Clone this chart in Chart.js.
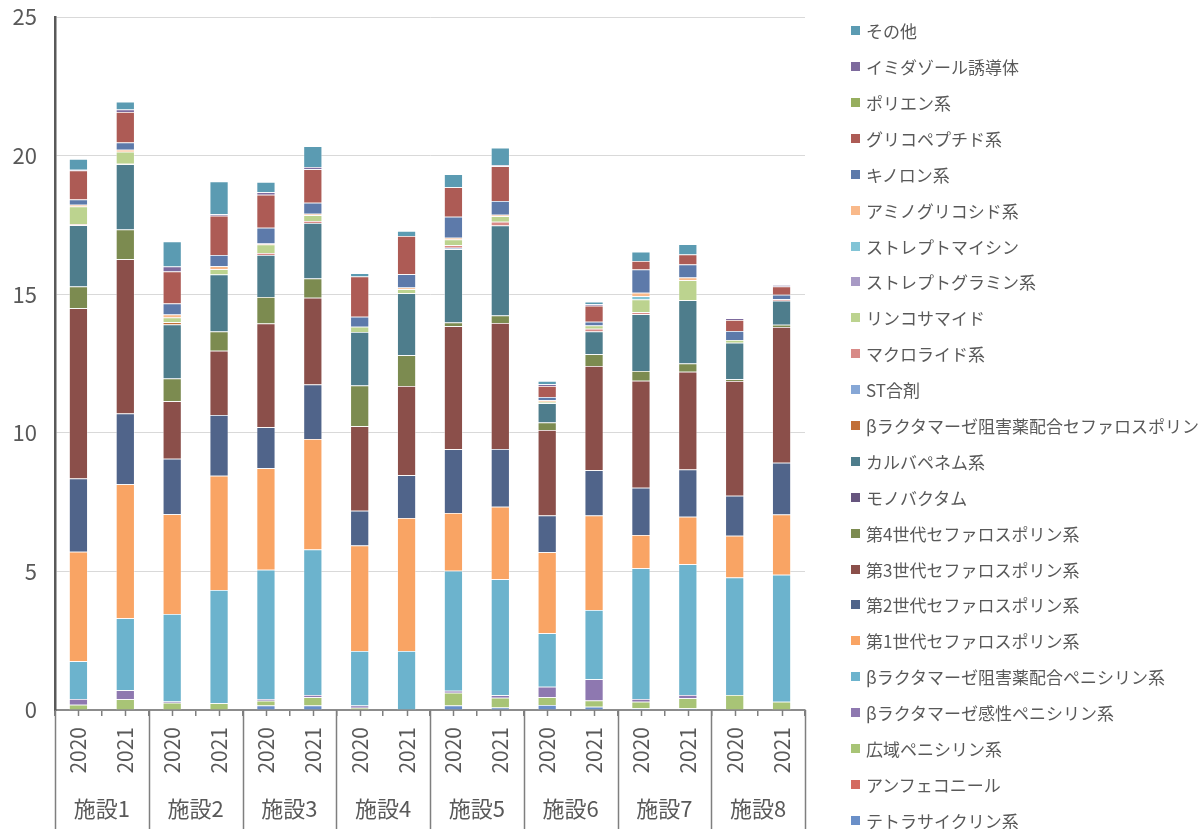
<!DOCTYPE html>
<html lang="ja">
<head>
<meta charset="utf-8">
<title>施設別 抗菌薬使用量</title>
<script src="https://cdn.jsdelivr.net/npm/chart.js@4.4.1/dist/chart.umd.min.js"></script>
<style>
  html, body { margin: 0; padding: 0; background: #fff; }
  body { width: 1200px; height: 829px; position: relative; overflow: hidden; font-family: "Noto Sans CJK JP", "Noto Sans", sans-serif; }
  #chart { position: absolute; left: 0; top: 0; }
  #legend { position: absolute; left: 851px; top: 12.8px; margin: 0; padding: 0; list-style: none; }
  #legend li { height: 35.9px; display: flex; align-items: center; font-size: 17px; color: #595959; white-space: nowrap; }
  #legend .box { width: 9px; height: 9px; margin-right: 6px; flex: none; }
</style>
</head>
<body>
<canvas id="chart" width="1200" height="829"></canvas>
<ul id="legend"></ul>
<script>
// x axis: facility groups and years
const facilities = ['施設1', '施設2', '施設3', '施設4', '施設5', '施設6', '施設7', '施設8'];
const years = ['2020', '2021'];
const yTicks = [0, 5, 10, 15, 20, 25];

// one value per bar: 施設1 2020, 施設1 2021, 施設2 2020 ...
const tetracycline   = [0, 0, 0, 0, 0.16, 0.16, 0, 0, 0.16, 0.09, 0.18, 0.12, 0.06, 0.06, 0, 0];
const amphenicol     = [0, 0, 0, 0, 0, 0, 0, 0, 0, 0, 0, 0, 0, 0, 0, 0];
const broadPen       = [0.19, 0.39, 0.26, 0.24, 0.17, 0.30, 0.08, 0, 0.46, 0.35, 0.28, 0.22, 0.24, 0.36, 0.54, 0.30];
const sensPen        = [0.21, 0.32, 0.05, 0, 0.07, 0.08, 0.08, 0, 0.07, 0.09, 0.38, 0.77, 0.10, 0.12, 0, 0];
const inhibPen       = [1.36, 2.60, 3.15, 4.09, 4.66, 5.25, 1.97, 2.13, 4.33, 4.19, 1.93, 2.50, 4.71, 4.72, 4.24, 4.58];
const ceph1          = [3.95, 4.83, 3.60, 4.12, 3.66, 3.99, 3.80, 4.80, 2.09, 2.61, 2.92, 3.41, 1.20, 1.71, 1.51, 2.17];
const ceph2          = [2.64, 2.56, 2.00, 2.19, 1.48, 1.96, 1.26, 1.54, 2.30, 2.09, 1.33, 1.63, 1.71, 1.71, 1.44, 1.87];
const ceph3          = [6.14, 5.56, 2.08, 2.32, 3.74, 3.13, 3.05, 3.22, 4.43, 4.54, 3.08, 3.76, 3.86, 3.52, 4.14, 4.90];
const ceph4          = [0.79, 1.07, 0.82, 0.69, 0.96, 0.70, 1.47, 1.11, 0.14, 0.27, 0.27, 0.42, 0.35, 0.30, 0.06, 0.08];
const monobactam     = [0, 0, 0, 0, 0, 0, 0, 0, 0, 0, 0, 0, 0, 0, 0, 0];
const carbapenem     = [2.21, 2.36, 1.95, 2.06, 1.51, 2.00, 1.93, 2.23, 2.64, 3.25, 0.70, 0.82, 2.05, 2.28, 1.32, 0.86];
const inhibCeph      = [0, 0, 0.08, 0, 0, 0, 0, 0, 0, 0, 0, 0, 0, 0, 0, 0];
const stMix          = [0, 0, 0, 0, 0, 0, 0, 0, 0.06, 0, 0, 0, 0, 0, 0, 0];
const macrolide      = [0.03, 0.02, 0, 0, 0.08, 0.07, 0, 0, 0.09, 0.13, 0, 0.10, 0.07, 0, 0, 0.06];
const lincosamide    = [0.64, 0.43, 0.17, 0.19, 0.30, 0.21, 0.19, 0.15, 0.20, 0.20, 0.05, 0.12, 0.46, 0.72, 0.10, 0];
const streptogramin  = [0, 0, 0, 0, 0, 0, 0, 0, 0, 0, 0, 0, 0, 0, 0, 0];
const streptomycin   = [0, 0, 0, 0, 0, 0, 0, 0, 0, 0, 0, 0, 0.12, 0, 0, 0];
const aminoglycoside = [0.07, 0.07, 0.11, 0.11, 0.04, 0.05, 0, 0.06, 0.07, 0.06, 0.05, 0, 0.12, 0.10, 0, 0];
const quinolone      = [0.19, 0.26, 0.39, 0.40, 0.57, 0.40, 0.36, 0.48, 0.75, 0.49, 0.12, 0.14, 0.84, 0.47, 0.32, 0.16];
const glycopeptide   = [1.04, 1.10, 1.16, 1.42, 1.19, 1.21, 1.45, 1.38, 1.07, 1.26, 0.40, 0.57, 0.31, 0.36, 0.40, 0.30];
const polyene        = [0, 0, 0, 0, 0, 0, 0, 0, 0, 0, 0, 0, 0, 0, 0, 0];
const imidazole      = [0.03, 0.09, 0.18, 0.05, 0.09, 0.08, 0, 0, 0, 0.03, 0.06, 0.06, 0, 0, 0.06, 0.05];
const others         = [0.39, 0.28, 0.90, 1.19, 0.37, 0.75, 0.12, 0.18, 0.47, 0.63, 0.12, 0.09, 0.33, 0.37, 0, 0];

// stacked from the bottom up
const series = [
  ['テトラサイクリン系', tetracycline, '#6A8FC8'],
  ['アンフェコニール', amphenicol, '#D46A60'],
  ['広域ペニシリン系', broadPen, '#A8C476'],
  ['βラクタマーゼ感性ペニシリン系', sensPen, '#8E78B0'],
  ['βラクタマーゼ阻害薬配合ペニシリン系', inhibPen, '#6CB3CD'],
  ['第1世代セファロスポリン系', ceph1, '#F9A464'],
  ['第2世代セファロスポリン系', ceph2, '#50648A'],
  ['第3世代セファロスポリン系', ceph3, '#8B4F4A'],
  ['第4世代セファロスポリン系', ceph4, '#7C8B50'],
  ['モノバクタム', monobactam, '#66557E'],
  ['カルバペネム系', carbapenem, '#4E7D8C'],
  ['βラクタマーゼ阻害薬配合セファロスポリン', inhibCeph, '#C16F37'],
  ['ST合剤', stMix, '#86A7D6'],
  ['マクロライド系', macrolide, '#D88A87'],
  ['リンコサマイド', lincosamide, '#BCD38F'],
  ['ストレプトグラミン系', streptogramin, '#A89AC5'],
  ['ストレプトマイシン', streptomycin, '#82C4D6'],
  ['アミノグリコシド系', aminoglycoside, '#F9B98A'],
  ['キノロン系', quinolone, '#5D7AAA'],
  ['グリコペプチド系', glycopeptide, '#AD5B55'],
  ['ポリエン系', polyene, '#96AE5E'],
  ['イミダゾール誘導体', imidazole, '#7D6A9D'],
  ['その他', others, '#5B9BB2']
];

const labels = facilities.flatMap(() => years);
const textColor = '#595959';
const font = '"Noto Sans CJK JP", "Noto Sans", sans-serif';

// second row of the x axis: facility names with separators
const groupAxis = {
  id: 'groupAxis',
  afterDraw(chart) {
    const { ctx } = chart;
    const x = chart.scales.x;
    const half = (x.getPixelForValue(1) - x.getPixelForValue(0)) / 2;
    const top = x.top;
    ctx.save();
    ctx.strokeStyle = '#7f7f7f';
    ctx.lineWidth = 1.5;
    ctx.beginPath();
    labels.forEach((l, i) => {
      const px = Math.round(x.getPixelForValue(i)) + 0.5;
      ctx.moveTo(px, top);
      ctx.lineTo(px, top + 6);
    });
    for (let g = 0; g <= facilities.length; g++) {
      const px = Math.round(x.getPixelForValue(g * years.length) - half) + 0.5;
      ctx.moveTo(px, top);
      ctx.lineTo(px, chart.height);
    }
    ctx.stroke();
    ctx.fillStyle = textColor;
    ctx.font = '22px ' + font;
    ctx.textAlign = 'center';
    ctx.textBaseline = 'middle';
    facilities.forEach((f, g) => {
      const cx = (x.getPixelForValue(g * 2) + x.getPixelForValue(g * 2 + 1)) / 2;
      ctx.fillText(f, cx, 809);
    });
    ctx.restore();
  }
};

new Chart(document.getElementById('chart'), {
  type: 'bar',
  data: {
    labels: labels,
    datasets: series.map(([name, values, color]) => ({
      label: name,
      data: values,
      backgroundColor: color,
      borderColor: 'rgba(255,255,255,0.55)',
      borderWidth: 0.75,
      barPercentage: 0.4,
      categoryPercentage: 1.0
    }))
  },
  options: {
    responsive: false,
    animation: false,
    devicePixelRatio: 1,
    layout: { padding: { top: 17, right: 395, left: 0, bottom: 0 } },
    plugins: {
      legend: { display: false },
      tooltip: { enabled: false }
    },
    scales: {
      x: {
        stacked: true,
        afterFit(scale) {
          scale.height = 119;
          scale.paddingLeft = 0;
          scale.paddingRight = 0;
        },
        grid: { display: true, drawOnChartArea: false, offset: true, tickLength: 6, color: '#7f7f7f', lineWidth: 1.5 },
        border: { color: '#8c8c8c', width: 2 },
        ticks: {
          minRotation: 90,
          maxRotation: 90,
          padding: 11,
          color: textColor,
          font: { family: font, size: 21 }
        }
      },
      y: {
        stacked: true,
        min: yTicks[0],
        max: yTicks[yTicks.length - 1],
        afterFit(scale) {
          scale.width = 55;
          scale.paddingTop = 0;
          scale.paddingBottom = 0;
        },
        afterBuildTicks(scale) { scale.ticks = yTicks.map(v => ({ value: v })); },
        grid: { color: '#d9d9d9', lineWidth: 1, drawTicks: false },
        border: { color: '#595959', width: 2.5 },
        ticks: {
          padding: 18,
          color: textColor,
          font: { family: font, size: 22 }
        }
      }
    }
  },
  plugins: [groupAxis]
});

// legend on the right, top entry is the top of the stack
const legendEl = document.getElementById('legend');
series.slice().reverse().forEach(([name, , color]) => {
  const li = document.createElement('li');
  const box = document.createElement('span');
  box.className = 'box';
  box.style.background = color;
  li.appendChild(box);
  li.appendChild(document.createTextNode(name));
  legendEl.appendChild(li);
});
</script>
</body>
</html>
